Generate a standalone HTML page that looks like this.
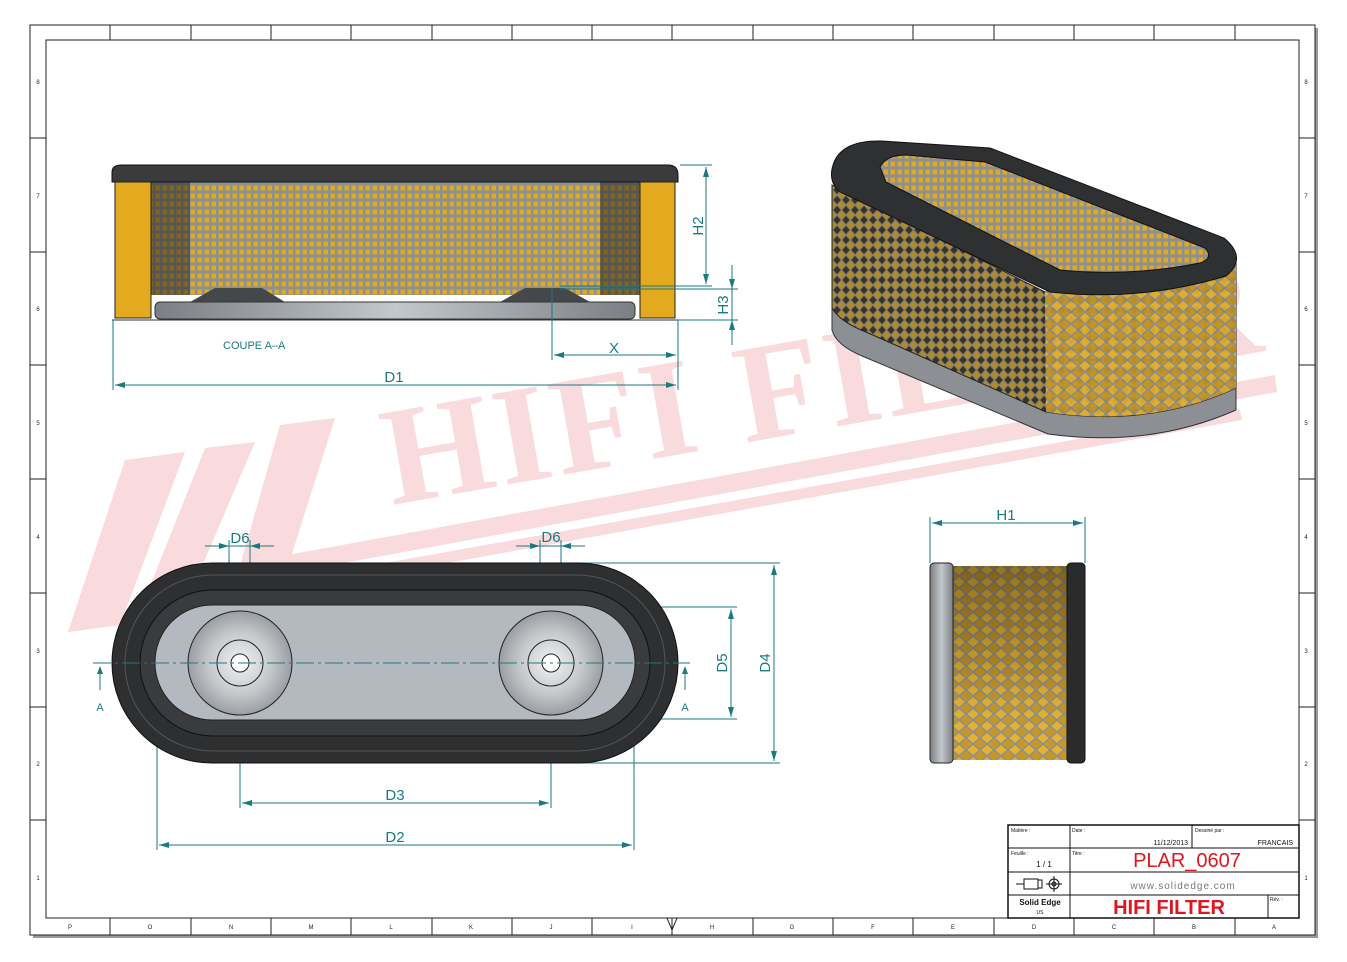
<!DOCTYPE html>
<html><head><meta charset="utf-8"><style>
html,body{margin:0;padding:0;background:#fff;}
svg{display:block;font-family:"Liberation Sans",sans-serif;}
</style></head><body>
<svg width="1347" height="962" viewBox="0 0 1347 962" xmlns="http://www.w3.org/2000/svg">
<defs>
<pattern id="grid" width="7" height="8" patternUnits="userSpaceOnUse">
<rect width="7" height="8" fill="#8a9094"/><rect x="1.5" y="1.5" width="4.5" height="5" fill="#e2a81e"/>
</pattern>
<pattern id="dia" width="14" height="12" patternUnits="userSpaceOnUse">
<rect width="14" height="12" fill="#c9961e"/>
<path d="M0,6 L7,0 L14,6 L7,12 Z" fill="#e7b22a" stroke="#8a8f95" stroke-width="1.6"/>
</pattern>
<pattern id="dia3" width="14" height="12" patternUnits="userSpaceOnUse">
<rect width="14" height="12" fill="#5a4418"/>
<path d="M0,6 L7,0 L14,6 L7,12 Z" fill="#b88a1e" stroke="#8a8f95" stroke-width="1.6"/>
</pattern>
<pattern id="dia2" width="9" height="10" patternUnits="userSpaceOnUse">
<rect width="9" height="10" fill="#3a3320"/>
<path d="M0,5 L4.5,0 L9,5 L4.5,10 Z" fill="#b48a22" stroke="#7d8186" stroke-width="1.2"/>
</pattern>
<linearGradient id="lg" x1="0" x2="1"><stop offset="0" stop-color="#7b7f83"/><stop offset=".5" stop-color="#c3c8cc"/><stop offset="1" stop-color="#7b7f83"/></linearGradient>
<linearGradient id="sv" x1="0" y1="0" x2="0" y2="1"><stop offset="0" stop-color="#000" stop-opacity=".35"/><stop offset=".5" stop-color="#000" stop-opacity=".15"/><stop offset="1" stop-color="#fff" stop-opacity="0"/></linearGradient>
<radialGradient id="disc"><stop offset="0" stop-color="#f2f2f2"/><stop offset=".6" stop-color="#c5c8cb"/><stop offset="1" stop-color="#9a9ea2"/></radialGradient>
</defs>

<!-- frame -->
<rect x="33" y="28" width="1285" height="910" fill="#9a9a9a"/>
<rect x="30" y="25" width="1285" height="910" fill="#fff" stroke="#222" stroke-width="1"/>
<rect x="46" y="40" width="1253" height="878" fill="none" stroke="#222" stroke-width="1"/>
<g stroke="#222" stroke-width="1">
<line x1="110" y1="25" x2="110" y2="40"/><line x1="191" y1="25" x2="191" y2="40"/><line x1="271" y1="25" x2="271" y2="40"/><line x1="351" y1="25" x2="351" y2="40"/><line x1="432" y1="25" x2="432" y2="40"/><line x1="512" y1="25" x2="512" y2="40"/><line x1="592" y1="25" x2="592" y2="40"/><line x1="672" y1="25" x2="672" y2="40"/><line x1="753" y1="25" x2="753" y2="40"/><line x1="833" y1="25" x2="833" y2="40"/><line x1="913" y1="25" x2="913" y2="40"/><line x1="994" y1="25" x2="994" y2="40"/><line x1="1074" y1="25" x2="1074" y2="40"/><line x1="1154" y1="25" x2="1154" y2="40"/><line x1="1235" y1="25" x2="1235" y2="40"/>
<line x1="110" y1="918" x2="110" y2="935"/><line x1="191" y1="918" x2="191" y2="935"/><line x1="271" y1="918" x2="271" y2="935"/><line x1="351" y1="918" x2="351" y2="935"/><line x1="432" y1="918" x2="432" y2="935"/><line x1="512" y1="918" x2="512" y2="935"/><line x1="592" y1="918" x2="592" y2="935"/><line x1="672" y1="918" x2="672" y2="935"/><line x1="753" y1="918" x2="753" y2="935"/><line x1="833" y1="918" x2="833" y2="935"/><line x1="913" y1="918" x2="913" y2="935"/><line x1="994" y1="918" x2="994" y2="935"/><line x1="1074" y1="918" x2="1074" y2="935"/><line x1="1154" y1="918" x2="1154" y2="935"/><line x1="1235" y1="918" x2="1235" y2="935"/>
<line x1="30" y1="138" x2="46" y2="138"/><line x1="30" y1="252" x2="46" y2="252"/><line x1="30" y1="365" x2="46" y2="365"/><line x1="30" y1="479" x2="46" y2="479"/><line x1="30" y1="593" x2="46" y2="593"/><line x1="30" y1="707" x2="46" y2="707"/><line x1="30" y1="820" x2="46" y2="820"/>
<line x1="1299" y1="138" x2="1315" y2="138"/><line x1="1299" y1="252" x2="1315" y2="252"/><line x1="1299" y1="365" x2="1315" y2="365"/><line x1="1299" y1="479" x2="1315" y2="479"/><line x1="1299" y1="593" x2="1315" y2="593"/><line x1="1299" y1="707" x2="1315" y2="707"/><line x1="1299" y1="820" x2="1315" y2="820"/>
</g>
<g font-size="6" fill="#222" text-anchor="middle">
<text x="70" y="929">P</text><text x="150" y="929">O</text><text x="231" y="929">N</text><text x="311" y="929">M</text><text x="391" y="929">L</text><text x="471" y="929">K</text><text x="551" y="929">J</text><text x="632" y="929">I</text><text x="712" y="929">H</text><text x="792" y="929">G</text><text x="873" y="929">F</text><text x="953" y="929">E</text><text x="1034" y="929">D</text><text x="1114" y="929">C</text><text x="1194" y="929">B</text><text x="1274" y="929">A</text>
<text x="38" y="84">8</text><text x="38" y="198">7</text><text x="38" y="311">6</text><text x="38" y="425">5</text><text x="38" y="539">4</text><text x="38" y="653">3</text><text x="38" y="766">2</text><text x="38" y="880">1</text>
<text x="1306" y="84">8</text><text x="1306" y="198">7</text><text x="1306" y="311">6</text><text x="1306" y="425">5</text><text x="1306" y="539">4</text><text x="1306" y="653">3</text><text x="1306" y="766">2</text><text x="1306" y="880">1</text>
</g>
<path d="M667,918 L677,918 L672,930 Z" fill="none" stroke="#222"/>

<!-- watermark -->
<g fill="#f9dadd">
<polygon points="125,460 185,452 120,625 68,632"/>
<polygon points="205,448 255,442 180,618 135,624"/>
<polygon points="280,425 335,418 290,560 240,566"/>
<polygon points="260,560 1275,375 1277,392 262,578"/>
<polygon points="262,585 1240,410 1242,420 264,596"/>
<text x="392" y="505" font-family="Liberation Serif,serif" font-weight="bold" font-size="140" transform="rotate(-10 392 505)" letter-spacing="4">HIFI FILTER</text>
</g>

<!-- Section view -->
<rect x="150" y="180" width="490" height="115" fill="url(#grid)"/>
<rect x="150" y="180" width="40" height="115" fill="#111" opacity="0.45"/>
<rect x="600" y="180" width="40" height="115" fill="#111" opacity="0.45"/>
<path d="M112,172 Q112,165 122,165 L668,165 Q678,165 678,175 L678,182 L112,182 Z" fill="#3a3b3d" stroke="#111"/>
<rect x="115" y="182" width="36" height="136" fill="#e3a91f" stroke="#222"/>
<rect x="640" y="182" width="35" height="136" fill="#e3a91f" stroke="#222"/>
<path d="M190,302 L215,288 L262,288 L285,302 Z M500,302 L525,288 L565,288 L590,302 Z" fill="#45484b"/>
<rect x="155" y="302" width="480" height="17" rx="5" fill="url(#lg)" stroke="#333"/>
<line x1="112" y1="320" x2="678" y2="320" stroke="#333"/>
<text x="223" y="349" font-size="11" fill="#1a7a80">COUPE A–A</text>

<!-- dimensions -->
<g stroke="#1a7a80" stroke-width="1" fill="none">
<line x1="680" y1="165" x2="712" y2="165"/><line x1="560" y1="286" x2="712" y2="286"/><line x1="706" y1="167" x2="706" y2="284"/>
<line x1="560" y1="289" x2="738" y2="289"/><line x1="678" y1="320" x2="738" y2="320"/><line x1="732" y1="265" x2="732" y2="345"/>
<line x1="552" y1="289" x2="552" y2="360"/><line x1="678" y1="320" x2="678" y2="390"/><line x1="554" y1="355" x2="676" y2="355"/>
<line x1="113" y1="320" x2="113" y2="390"/><line x1="115" y1="385" x2="676" y2="385"/>
<line x1="205" y1="546" x2="274" y2="546"/><line x1="229" y1="540" x2="229" y2="663"/><line x1="250" y1="540" x2="250" y2="663"/>
<line x1="516" y1="546" x2="585" y2="546"/><line x1="540" y1="540" x2="540" y2="663"/><line x1="561" y1="540" x2="561" y2="663"/>
<line x1="560" y1="563" x2="780" y2="563"/><line x1="560" y1="763" x2="780" y2="763"/><line x1="774" y1="565" x2="774" y2="761"/>
<line x1="575" y1="607" x2="737" y2="607"/><line x1="575" y1="719" x2="737" y2="719"/><line x1="731" y1="609" x2="731" y2="717"/>
<line x1="240" y1="663" x2="240" y2="808"/><line x1="551" y1="663" x2="551" y2="808"/><line x1="242" y1="803" x2="549" y2="803"/>
<line x1="157" y1="663" x2="157" y2="850"/><line x1="634" y1="663" x2="634" y2="850"/><line x1="159" y1="845" x2="632" y2="845"/>
<line x1="930" y1="517" x2="930" y2="563"/><line x1="1085" y1="517" x2="1085" y2="563"/><line x1="932" y1="523" x2="1083" y2="523"/>
<line x1="100" y1="668" x2="100" y2="690"/><line x1="685" y1="668" x2="685" y2="690"/>
</g>
<g fill="#1a7a80">
<path d="M706,167 l-3,10 h6z M706,284 l-3,-10 h6z M732,289 l-3,-10 h6z M732,320 l-3,10 h6z M554,355 l10,-3 v6z M676,355 l-10,-3 v6z M115,385 l10,-3 v6z M676,385 l-10,-3 v6z
M229,546 l-10,-3 v6z M250,546 l10,-3 v6z M540,546 l-10,-3 v6z M561,546 l10,-3 v6z M774,565 l-3,10 h6z M774,761 l-3,-10 h6z M731,609 l-3,10 h6z M731,717 l-3,-10 h6z
M242,803 l10,-3 v6z M549,803 l-10,-3 v6z M159,845 l10,-3 v6z M632,845 l-10,-3 v6z M932,523 l10,-3 v6z M1083,523 l-10,-3 v6z M100,666 l-3,8 h6z M685,666 l-3,8 h6z"/>
</g>
<g fill="#1a7a80" font-size="15" text-anchor="middle">
<text x="614" y="353">X</text><text x="394" y="382">D1</text>
<text x="240" y="543">D6</text><text x="551" y="542">D6</text>
<text x="395" y="800">D3</text><text x="395" y="842">D2</text><text x="1006" y="520">H1</text>
<text font-size="11" x="100" y="711">A</text><text font-size="11" x="685" y="711">A</text>
<text transform="translate(703,226) rotate(-90)">H2</text>
<text transform="translate(728,305) rotate(-90)">H3</text>
<text transform="translate(727,663) rotate(-90)">D5</text>
<text transform="translate(770,663) rotate(-90)">D4</text>
</g>

<!-- Bottom view -->
<rect x="112" y="563" width="566" height="200" rx="100" fill="#2e2f31" stroke="#111"/>
<rect x="125" y="575" width="540" height="176" rx="88" fill="none" stroke="#555"/>
<rect x="140" y="590" width="510" height="146" rx="73" fill="#3a3b3d" stroke="#111"/>
<rect x="155" y="605" width="480" height="115" rx="57" fill="#b3b9bf" stroke="#222"/>
<circle cx="240" cy="663" r="52" fill="url(#disc)" stroke="#222"/>
<circle cx="240" cy="663" r="23" fill="none" stroke="#222"/>
<circle cx="240" cy="663" r="9" fill="#fff" stroke="#222"/>
<circle cx="551" cy="663" r="52" fill="url(#disc)" stroke="#222"/>
<circle cx="551" cy="663" r="23" fill="none" stroke="#222"/>
<circle cx="551" cy="663" r="9" fill="#fff" stroke="#222"/>
<line x1="93" y1="663" x2="690" y2="663" stroke="#1a7a80" stroke-dasharray="18,4,3,4"/>

<!-- Side view -->
<rect x="952" y="566" width="116" height="194" fill="url(#dia)"/>
<rect x="952" y="566" width="116" height="194" fill="url(#sv)"/>
<rect x="930" y="563" width="23" height="200" rx="4" fill="url(#lg)" stroke="#222"/>
<rect x="1067" y="563" width="18" height="200" rx="4" fill="#2a2b2d" stroke="#111"/>

<!-- 3D view -->
<path d="M832,300 L832,330 Q836,345 862,356 L1048,434 Q1150,448 1236,410 L1236,385 Z" fill="#8c9094" stroke="#333"/>
<path d="M832,185 L832,308 Q840,322 866,332 L1046,412 Q1150,428 1236,388 L1236,262 L1045,292 Z" fill="url(#dia2)" stroke="#222"/>
<path d="M1045,292 L1236,262 L1236,388 Q1150,428 1046,412 Z" fill="url(#dia)" opacity="0.9"/>
<path d="M835,160 Q845,140 882,141 L990,148 L1224,238 Q1248,258 1226,276 Q1140,302 1050,292 L840,192 Q826,180 835,160 Z" fill="#2f3032" stroke="#111"/>
<path d="M880,167 Q886,155 906,155 L985,162 L1205,248 Q1214,258 1200,263 Q1130,277 1060,270 L886,182 Z" fill="url(#grid)" stroke="#111"/>

<!-- Title block -->
<g stroke="#111" fill="none">
<rect x="1008" y="825" width="291" height="93" stroke-width="1.5"/>
<line x1="1070" y1="825" x2="1070" y2="918"/>
<line x1="1008" y1="848" x2="1299" y2="848"/>
<line x1="1008" y1="872" x2="1299" y2="872"/>
<line x1="1008" y1="895" x2="1299" y2="895"/>
<line x1="1192" y1="825" x2="1192" y2="848"/>
<line x1="1268" y1="895" x2="1268" y2="918"/>
</g>
<g font-size="5" fill="#111">
<text x="1011" y="832">Matière :</text><text x="1072" y="832">Date :</text><text x="1195" y="832">Dessiné par :</text>
<text x="1011" y="855">Feuille :</text><text x="1072" y="855">Titre :</text><text x="1270" y="901">Rév. :</text>
</g>
<text x="1188" y="845" font-size="7" fill="#111" text-anchor="end">11/12/2013</text>
<text x="1293" y="845" font-size="7" fill="#111" text-anchor="end">FRANCAIS</text>
<text x="1044" y="867" font-size="8" fill="#111" text-anchor="middle">1 / 1</text>
<text x="1187" y="867" font-size="20" fill="#e0161e" text-anchor="middle">PLAR_0607</text>
<text x="1183" y="889" font-size="10" fill="#777" text-anchor="middle" letter-spacing="1">www.solidedge.com</text>
<text x="1169" y="914" font-size="20" font-weight="bold" fill="#e0161e" text-anchor="middle">HIFI FILTER</text>
<text x="1040" y="905" font-size="8" font-weight="bold" fill="#111" text-anchor="middle">Solid Edge</text>
<text x="1040" y="914" font-size="5" fill="#111" text-anchor="middle">US</text>
<g stroke="#111" fill="none"><path d="M1016,884 h8 M1024,879 h14 v10 h-14z M1038,880 h4 v8 h-4"/><circle cx="1054" cy="884" r="5"/><circle cx="1054" cy="884" r="2"/><path d="M1046,884 h16 M1054,876 v16"/></g>
</svg>
</body></html>
